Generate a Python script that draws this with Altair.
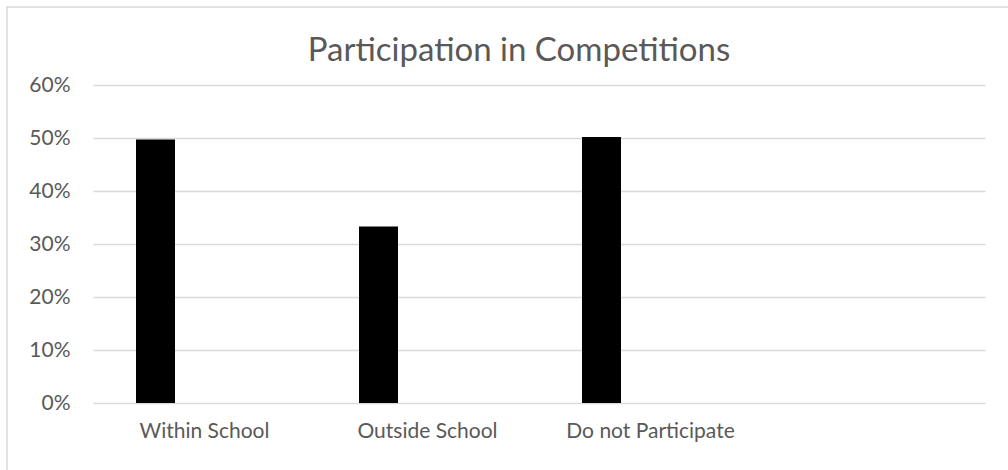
import altair as alt
import pandas as pd

categories = ["Within School", "Outside School", "Do not Participate"]
values = [0.497, 0.333, 0.502]
axis_slots = ["Within School", "Outside School", "Do not Participate", " "]
title_text = "Participation in Competitions"

df = pd.DataFrame({"category": categories, "share": values})

FONT = "Lato"
TEXT = "#595959"
GRID = "#d9d9d9"

bars = alt.Chart(df).mark_bar(color="#000000", width=39, xOffset=-49).encode(
    x=alt.X(
        "category:N",
        scale=alt.Scale(domain=axis_slots, paddingInner=0, paddingOuter=0),
        sort=axis_slots,
        axis=alt.Axis(
            title=None, labelAngle=0, ticks=False, domain=False, grid=False,
            labelFont=FONT, labelFontSize=21, labelColor=TEXT, labelPadding=17,
        ),
    ),
    y=alt.Y(
        "share:Q",
        scale=alt.Scale(domain=[0, 0.6], nice=False),
        axis=alt.Axis(
            title=None, format=".0%", values=[0, 0.1, 0.2, 0.3, 0.4, 0.5, 0.6],
            ticks=False, domain=False, grid=True, gridColor=GRID, gridWidth=1.5,
            labelFont=FONT, labelFontSize=21, labelColor=TEXT, labelPadding=23,
        ),
    ),
)

single = alt.Data(values=[{"t": title_text}])

border = alt.Chart(single).mark_rect(
    fill=None, stroke=GRID, strokeWidth=1.5
).encode(
    x=alt.value(-86), y=alt.value(-78), x2=alt.value(960), y2=alt.value(440)
)

title = alt.Chart(single).mark_text(
    font=FONT, fontSize=33, color=TEXT, align="center", baseline="alphabetic"
).encode(
    text="t:N", x=alt.value(426), y=alt.value(-24)
)

chart = alt.layer(border, bars, title).properties(
    width=892,
    height=318,
    autosize=alt.AutoSizeParams(type="none"),
    padding={"left": 93, "top": 85, "right": 23, "bottom": 67},
    background="white",
).configure_view(stroke=None)

chart.save("out.html", embed_options={"renderer": "svg", "actions": False})
